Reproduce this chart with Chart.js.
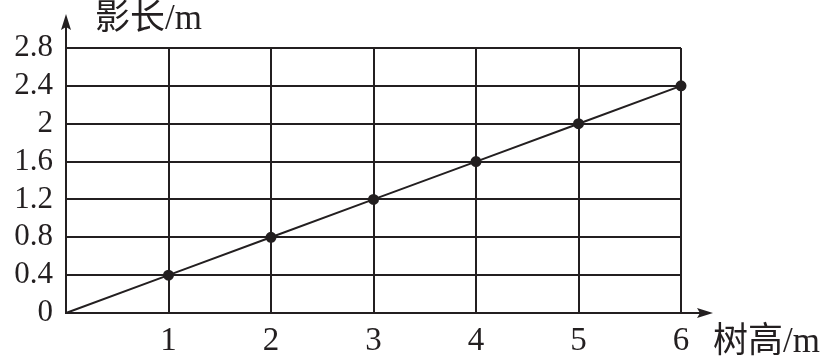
<!DOCTYPE html>
<html>
<head>
<meta charset="utf-8">
<script src="https://cdn.jsdelivr.net/npm/chart.js@4"></script>
<style>
  body { margin: 0; background: #fff; }
  #wrap { width: 826px; height: 360px; }
</style>
</head>
<body>
<div id="wrap"><canvas id="canvas" width="826" height="360"></canvas></div>
<script>
// tree height (m) vs shadow length (m)
var treeHeights = [0, 1, 2, 3, 4, 5, 6];
var shadowLengths = [0, 0.4, 0.8, 1.2, 1.6, 2, 2.4];
var yTickLabels = ["0", "0.4", "0.8", "1.2", "1.6", "2", "2.4", "2.8"];
var xTickLabels = ["", "1", "2", "3", "4", "5", "6"];
var xTitle = "树高/m";
var yTitle = "影长/m";

var ink = "#231f20";
var serif = "'Liberation Serif', 'Noto Sans CJK SC', serif";

// arrows and axis titles
var axisArrows = {
    id: "axisArrows",
    afterDraw: function(chart) {
        var ctx = chart.ctx;
        var a = chart.chartArea;
        ctx.save();
        ctx.strokeStyle = ink;
        ctx.fillStyle = ink;
        ctx.lineWidth = 2;
        // y axis up
        ctx.beginPath();
        ctx.moveTo(a.left, a.top);
        ctx.lineTo(a.left, 24);
        ctx.stroke();
        ctx.beginPath();
        ctx.moveTo(a.left, 14);
        ctx.lineTo(a.left - 5, 30);
        ctx.lineTo(a.left, 27);
        ctx.lineTo(a.left + 5, 30);
        ctx.closePath();
        ctx.fill();
        // x axis right
        ctx.beginPath();
        ctx.moveTo(a.right, a.bottom);
        ctx.lineTo(705, a.bottom);
        ctx.stroke();
        ctx.beginPath();
        ctx.moveTo(713, a.bottom);
        ctx.lineTo(697, a.bottom - 5);
        ctx.lineTo(700, a.bottom);
        ctx.lineTo(697, a.bottom + 5);
        ctx.closePath();
        ctx.fill();
        // titles
        ctx.font = "35px " + serif;
        ctx.textBaseline = "middle";
        ctx.textAlign = "left";
        ctx.fillText(yTitle, 95, 20);
        ctx.fillText(xTitle, 713, 343);
        ctx.restore();
    }
};

var context = document.getElementById("canvas").getContext("2d");

var chart = new Chart(context, {
    type: "line",
    data: {
        datasets: [{
            data: treeHeights.map(function(h, i) { return {x: h, y: shadowLengths[i]}; }),
            borderColor: ink,
            borderWidth: 2,
            backgroundColor: ink,
            pointRadius: treeHeights.map(function(h) { return h === 0 ? 0 : 4.5; }),
            pointHoverRadius: 4.5,
            tension: 0,
            clip: false
        }]
    },
    options: {
        responsive: false,
        animation: false,
        devicePixelRatio: 1,
        layout: { padding: { top: 48, right: 145, left: 0, bottom: 0 } },
        plugins: { legend: { display: false }, tooltip: { enabled: false } },
        scales: {
            x: {
                type: "linear",
                min: 0,
                max: 6,
                afterFit: function(s) { s.height = 47; },
                afterBuildTicks: function(s) {
                    s.ticks = treeHeights.map(function(v) { return {value: v}; });
                },
                ticks: {
                    color: ink,
                    font: { family: serif, size: 33 },
                    padding: 9,
                    maxRotation: 0,
                    autoSkip: false,
                    callback: function(v, i) { return xTickLabels[i]; }
                },
                grid: { color: ink, lineWidth: 2, drawTicks: false },
                border: { color: ink, width: 2 }
            },
            y: {
                type: "linear",
                min: 0,
                max: 2.8,
                afterFit: function(s) { s.width = 66; },
                afterBuildTicks: function(s) {
                    s.ticks = yTickLabels.map(function(t) { return {value: parseFloat(t)}; });
                },
                ticks: {
                    color: ink,
                    font: { family: serif, size: 31 },
                    padding: 13,
                    autoSkip: false,
                    callback: function(v, i) { return yTickLabels[i]; }
                },
                grid: { color: ink, lineWidth: 2, drawTicks: false },
                border: { color: ink, width: 2 }
            }
        }
    },
    plugins: [axisArrows]
});
</script>
</body>
</html>
